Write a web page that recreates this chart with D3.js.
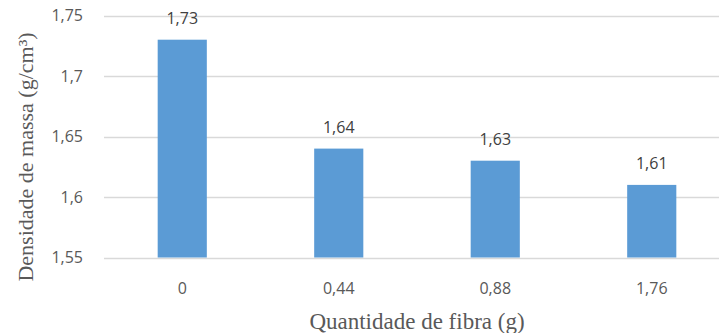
<!DOCTYPE html>
<html>
<head>
<meta charset="utf-8">
<script src="https://cdn.jsdelivr.net/npm/d3@7"></script>
<style>
  html, body { margin: 0; padding: 0; background: #fff; }
  svg { display: block; }
</style>
</head>
<body>
<svg id="chart" width="719" height="333"></svg>
<script>
// Fibre quantity (g) and the resulting mass density (g/cm³)
const categories = ["0", "0,44", "0,88", "1,76"];
const densities = [1.73, 1.64, 1.63, 1.61];
const yTicks = [1.55, 1.6, 1.65, 1.7, 1.75];
const yTickLabels = ["1,55", "1,6", "1,65", "1,7", "1,75"];
const yTitle = "Densidade de massa (g/cm³)";
const xTitle = "Quantidade de fibra (g)";

const W = 719, H = 333;
const plot = { left: 104, right: 730, top: 15.5, bottom: 257.5 };

const svg = d3.select("#chart");

const x = d3.scaleBand()
  .domain(categories)
  .range([plot.left, plot.right])
  .paddingInner(0.686)
  .paddingOuter(0.343);

const y = d3.scaleLinear()
  .domain([1.55, 1.75])
  .range([plot.bottom, plot.top]);

const fmt = v => String(v).replace(".", ",");

// horizontal gridlines
svg.append("g")
  .selectAll("line")
  .data(yTicks)
  .join("line")
  .attr("x1", plot.left)
  .attr("x2", W)
  .attr("y1", d => Math.round(y(d)) + 0.5)
  .attr("y2", d => Math.round(y(d)) + 0.5)
  .attr("stroke", "#d9d9d9")
  .attr("stroke-width", 1.5);

// y tick labels
svg.append("g")
  .selectAll("text")
  .data(yTicks)
  .join("text")
  .attr("x", 83)
  .attr("y", d => y(d))
  .attr("dy", "0.35em")
  .attr("text-anchor", "end")
  .attr("font-family", "'Open Sans', sans-serif")
  .attr("font-size", 16)
  .attr("fill", "#595959")
  .text((d, i) => yTickLabels[i]);

// bars
svg.append("g")
  .selectAll("rect")
  .data(densities)
  .join("rect")
  .attr("x", (d, i) => x(categories[i]))
  .attr("width", x.bandwidth())
  .attr("y", d => y(d))
  .attr("height", d => y(1.55) - y(d))
  .attr("fill", "#5b9bd5");

// value labels above bars
svg.append("g")
  .selectAll("text")
  .data(densities)
  .join("text")
  .attr("x", (d, i) => x(categories[i]) + x.bandwidth() / 2)
  .attr("y", d => y(d) - 16)
  .attr("text-anchor", "middle")
  .attr("font-family", "'Open Sans', sans-serif")
  .attr("font-size", 16)
  .attr("fill", "#404040")
  .text(d => fmt(d));

// x category labels
svg.append("g")
  .selectAll("text")
  .data(categories)
  .join("text")
  .attr("x", d => x(d) + x.bandwidth() / 2)
  .attr("y", 294)
  .attr("text-anchor", "middle")
  .attr("font-family", "'Open Sans', sans-serif")
  .attr("font-size", 16)
  .attr("fill", "#595959")
  .text(d => d);

// axis titles
svg.append("text")
  .attr("x", 417)
  .attr("y", 329)
  .attr("text-anchor", "middle")
  .attr("font-family", "'Liberation Serif', 'Times New Roman', serif")
  .attr("font-size", 23)
  .attr("fill", "#595959")
  .text(xTitle);

svg.append("text")
  .attr("transform", "translate(33,157) rotate(-90)")
  .attr("text-anchor", "middle")
  .attr("font-family", "'Liberation Serif', 'Times New Roman', serif")
  .attr("font-size", 22)
  .attr("fill", "#595959")
  .text(yTitle);
</script>
</body>
</html>
